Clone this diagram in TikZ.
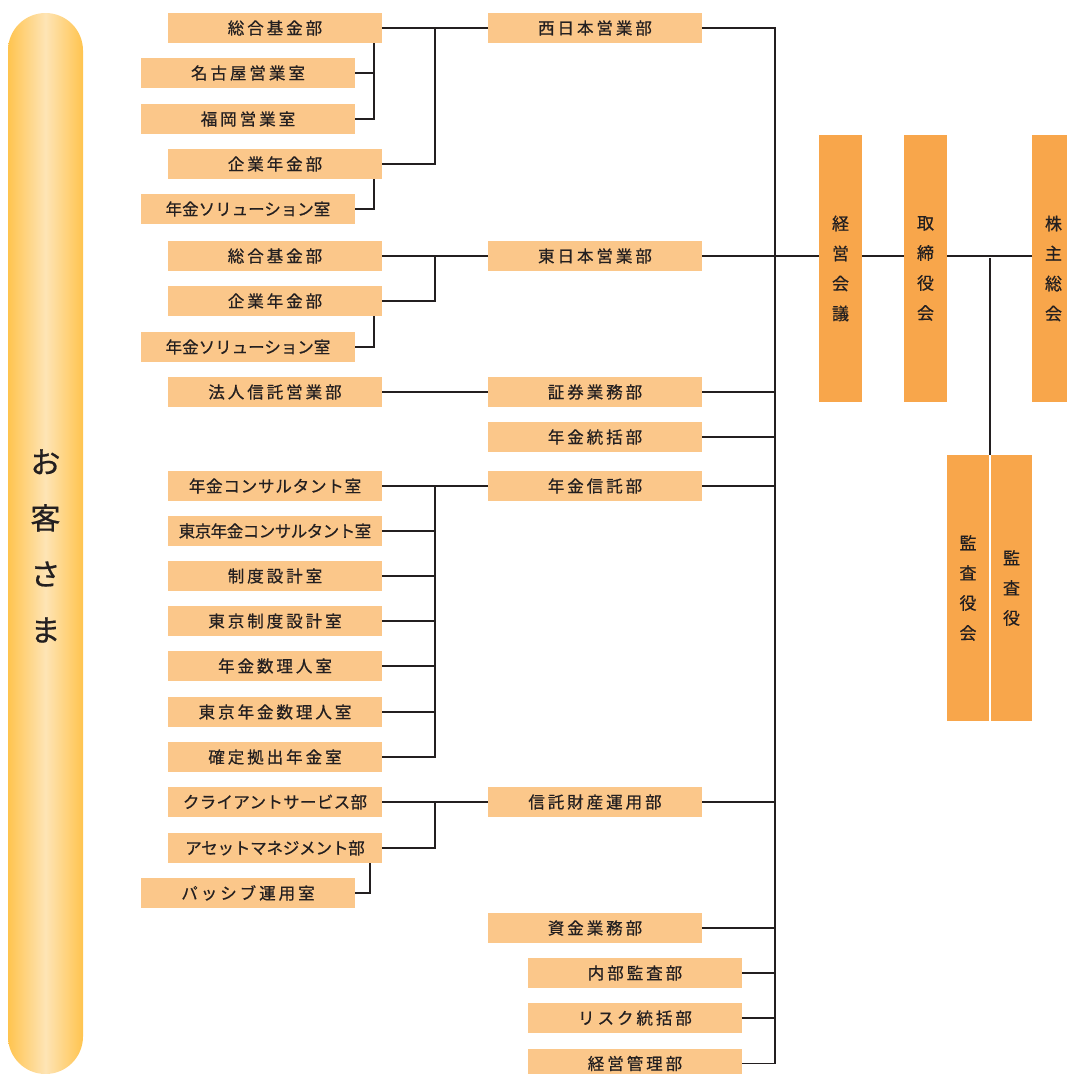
\documentclass[tikz,border=0pt]{standalone}
\usepackage{fontspec}
\setmainfont{Noto Sans CJK JP}[FakeBold=0.6]
\definecolor{boxlight}{HTML}{FBC78A}
\definecolor{boxdark}{HTML}{F8A64B}
\definecolor{txt}{HTML}{231F20}
\definecolor{linec}{HTML}{231F20}
\definecolor{barE}{HTML}{FFC44F}
\definecolor{barC}{HTML}{FEE4B5}
\tikzset{
  box/.style={fill=boxlight, minimum width=214pt, minimum height=30pt, inner sep=0pt, text=txt,
    font=\fontsize{16.5}{16.5}\selectfont\addfontfeature{LetterSpace=18}},
  ls/.style={font=\fontsize{16.5}{16.5}\selectfont\addfontfeature{LetterSpace=#1}},
  vbox/.style={fill=boxdark, minimum width=43pt, minimum height=267pt, inner sep=0pt, text=txt,
    align=center, font=\fontsize{17}{30}\selectfont},
  conn/.style={draw=linec, line width=1.8pt},
}
\begin{document}
\begin{tikzpicture}[x=1pt,y=-1pt]
\useasboundingbox (0,0) rectangle (1067,1074);
% customer bar
\path[left color=barE, right color=barE, middle color=barC, rounded corners=37.5pt] (8,13) rectangle (83,1074);
\node[text=txt, align=center, font=\fontsize{30}{56}\selectfont, inner sep=0pt] (cust) at (45.5,546) {お\\客\\さ\\ま};
% left column
\node[box] (L1) at (275,28) {総合基金部};
\node[box] (L2) at (248,73) {名古屋営業室};
\node[box] (L3) at (248,119) {福岡営業室};
\node[box] (L4) at (275,164) {企業年金部};
\node[box, ls=0] (L5) at (248,209) {年金ソリューション室};
\node[box] (L6) at (275,256) {総合基金部};
\node[box] (L7) at (275,301) {企業年金部};
\node[box, ls=0] (L8) at (248,347) {年金ソリューション室};
\node[box] (L9) at (275,392) {法人信託営業部};
\node[box, ls=5] (L10) at (275,486) {年金コンサルタント室};
\node[box, ls=-3] (L11) at (275,531) {東京年金コンサルタント室};
\node[box] (L12) at (275,576) {制度設計室};
\node[box] (L13) at (275,621) {東京制度設計室};
\node[box] (L14) at (275,666) {年金数理人室};
\node[box] (L15) at (275,712) {東京年金数理人室};
\node[box] (L16) at (275,757) {確定拠出年金室};
\node[box, ls=2] (L17) at (275,802) {クライアントサービス部};
\node[box, ls=-1] (L18) at (275,848) {アセットマネジメント部};
\node[box] (L19) at (248,893) {パッシブ運用室};
% middle column
\node[box] (M1) at (595,28) {西日本営業部};
\node[box] (M2) at (595,256) {東日本営業部};
\node[box] (M3) at (595,392) {証券業務部};
\node[box] (M4) at (595,437) {年金統括部};
\node[box] (M5) at (595,486) {年金信託部};
\node[box] (M6) at (595,802) {信託財産運用部};
\node[box] (M7) at (595,928) {資金業務部};
\node[box] (B1) at (635,973) {内部監査部};
\node[box] (B2) at (635,1018) {リスク統括部};
\node[box] (B3) at (635,1063.5) {経営管理部};
% right
\node[vbox] (R1) at (840.5,268.5) {経\\営\\会\\議};
\node[vbox] (R2) at (925.5,268.5) {取\\締\\役\\会};
\node[vbox] (R3) at (1053.5,268.5) {株\\主\\総\\会};
\node[vbox, minimum width=42pt, minimum height=266pt] (K1) at (968,588) {監\\査\\役\\会};
\node[vbox, minimum width=41pt, minimum height=266pt] (K2) at (1011.5,588) {監\\査\\役};
% helper x positions
\coordinate (vA) at (435,0);
\coordinate (vB) at (374,0);
\coordinate (vC) at (370,0);
\coordinate (vM) at (775,0);
\coordinate (vK) at (990,0);
% connectors, left groups
\draw[conn] (L1.east) -- (M1.west);
\draw[conn] (L4.east) -| (L1.east -| vA);
\draw[conn] (L2.east) -- (L2.east -| vB);
\draw[conn] (L3.east) -| (L1.south -| vB);
\draw[conn] (L5.east) -| (L4.south -| vB);
\draw[conn] (L6.east) -- (M2.west);
\draw[conn] (L7.east) -| (L6.east -| vA);
\draw[conn] (L8.east) -| (L7.south -| vB);
\draw[conn] (L9.east) -- (M3.west);
\draw[conn] (L10.east) -- (M5.west);
\foreach \n in {L11,L12,L13,L14,L15} \draw[conn] (\n.east) -- (\n.east -| vA);
\draw[conn] (L16.east) -| (L10.east -| vA);
\draw[conn] (L17.east) -- (M6.west);
\draw[conn] (L18.east) -| (L17.east -| vA);
\draw[conn] (L19.east) -| (L18.south -| vC);
% main trunk
\draw[conn] (M1.east) -- (M1.east -| vM) -- (B3.east -| vM) -- (B3.east);
\foreach \n in {M2,M3,M4,M5,M6,M7,B1,B2} \draw[conn] (\n.east) -- (\n.east -| vM);
\draw[conn] (M2.east -| vM) -- (M2.east -| R1.west);
\draw[conn] (M2.east -| R1.east) -- (M2.east -| R2.west);
\draw[conn] (M2.east -| R2.east) -- (M2.east -| R3.west);
\draw[conn] ([yshift=-2pt]M2.east -| vK) -- (K1.north -| vK);
\end{tikzpicture}
\end{document}
